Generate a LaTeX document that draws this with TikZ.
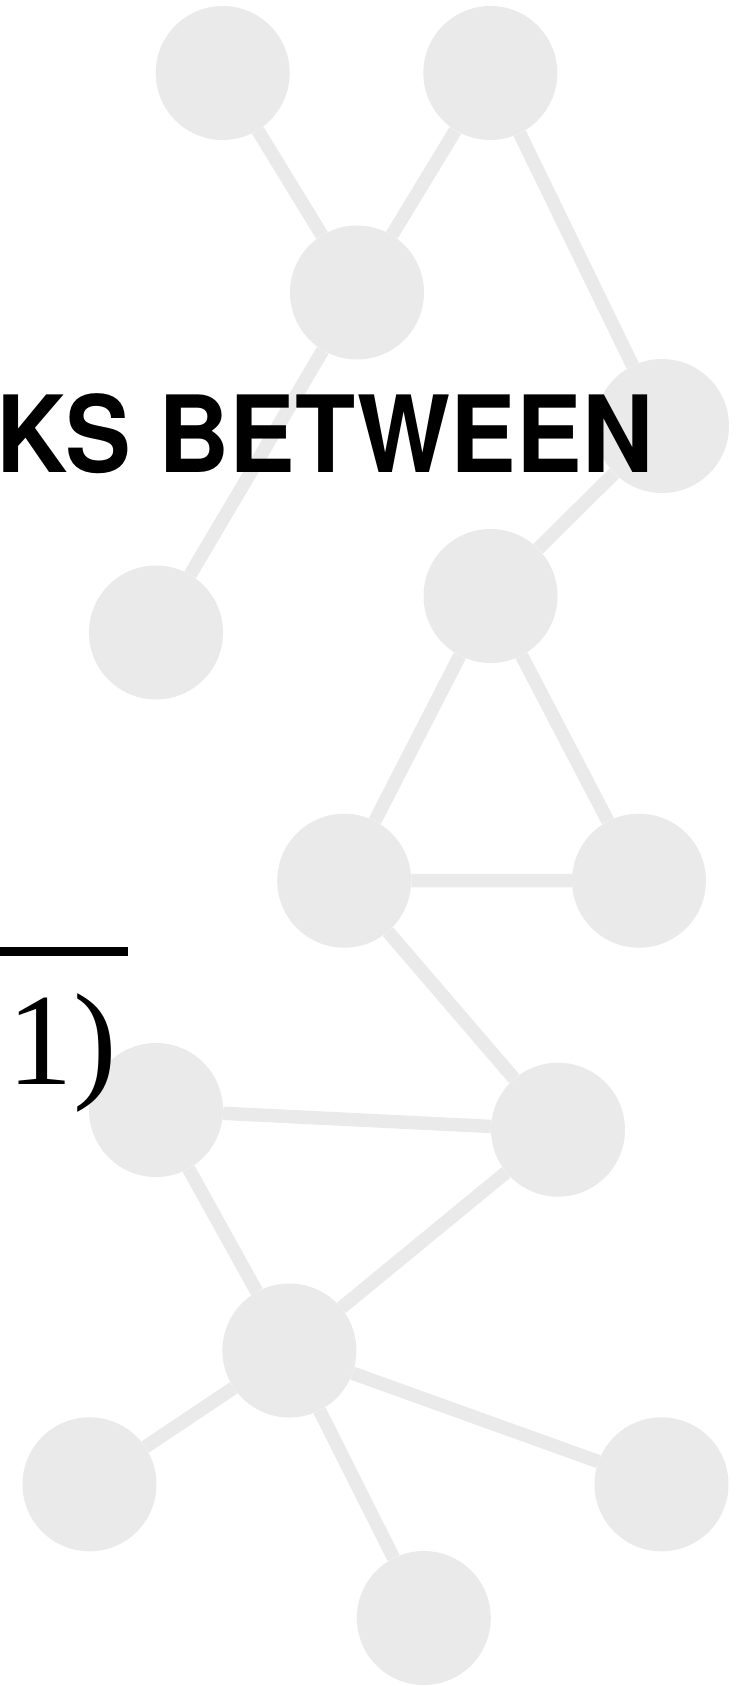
\documentclass[tikz,border=0pt]{standalone}
\usepackage{fontspec}
\newfontfamily\titlefont{TeX Gyre Heros}[FakeStretch=0.925]
\newfontfamily\mathlikefont{Liberation Serif}
\definecolor{netgray}{RGB}{234,234,234}
\begin{document}
\begin{tikzpicture}[x=1pt,y=-1pt,
    dot/.style={circle,fill=netgray,minimum size=134pt,inner sep=0pt},
    link/.style={draw=netgray,line width=13.5pt}]
			\useasboundingbox (0,0) rectangle (739,1686);
			\node[dot] (n1) at (222.7,73) {};
			\node[dot] (n2) at (490.3,73) {};
			\node[dot] (n3) at (357,292.5) {};
			\node[dot] (n4) at (662,426) {};
			\node[dot] (n5) at (156,632.5) {};
			\node[dot] (n6) at (490.5,596) {};
			\node[dot] (n7) at (344.2,880.7) {};
			\node[dot] (n8) at (639,880.7) {};
			\node[dot] (n9) at (156,1110) {};
			\node[dot] (n10) at (558,1129.7) {};
			\node[dot] (n11) at (289.4,1350.5) {};
			\node[dot] (n12) at (89.5,1484.3) {};
			\node[dot] (n13) at (661.5,1484.3) {};
			\node[dot] (n14) at (423.8,1618) {};
			\draw[link] (n1)--(n3) (n2)--(n3) (n2)--(n4) (n3)--(n5) (n4)--(n6);
			\draw[link] (n6)--(n7) (n6)--(n8) (n7)--(n8) (n7)--(n10);
			\draw[link] (n9)--(n10) (n9)--(n11) (n10)--(n11);
			\draw[link] (n11)--(n12) (n11)--(n13) (n11)--(n14);
			\node[anchor=base west,inner sep=0pt,font={\titlefont\bfseries\fontsize{106.5}{110}\selectfont}] (title) at (-3.2,472.7) {KS BETWEEN};
			\fill (0,947) rectangle (128,956);
			\node[anchor=base west,inner sep=0pt,font={\mathlikefont\fontsize{131}{140}\selectfont}] (frac) at (7.5,1084) {1)};
		\end{tikzpicture}
\end{document}
